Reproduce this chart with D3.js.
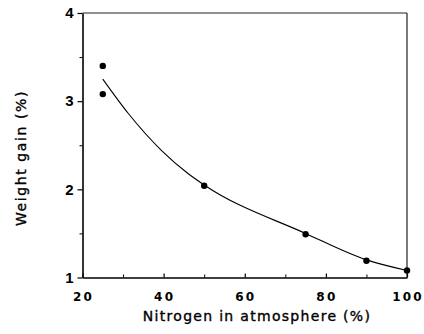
<!DOCTYPE html>
<html>
<head>
<meta charset="utf-8">
<script src="https://cdn.jsdelivr.net/npm/d3@7"></script>
<style>
  html, body { margin: 0; padding: 0; background: #fff; }
  svg { display: block; }
</style>
</head>
<body>
<svg id="chart" width="424" height="334"></svg>
<script>
// Observed data points (nitrogen %, weight gain %)
const pointX = [25, 25, 50, 75, 90, 100];
const pointY = [3.40, 3.08, 2.04, 1.49, 1.19, 1.08];

// Fitted curve
const curveX = [25, 31.3, 39.5, 46, 50, 75, 90, 100];
const curveY = [3.25, 2.86, 2.44, 2.18, 2.05, 1.50, 1.20, 1.08];

// Ticks
const xMajorTicks = [20, 40, 60, 80, 100];
const xMinorTicks = [30, 50, 70, 90];
const yMajorTicks = [1, 2, 3, 4];
const yMinorTicks = [1.5, 2.5, 3.5];

const xTitle = "Nitrogen in atmosphere (%)";
const yTitle = "Weight gain (%)";

const svg = d3.select("#chart");
const mLeft = 82.5, mRight = 407, mTop = 13, mBottom = 277.5;

const x = d3.scaleLinear().domain([20, 100]).range([mLeft, mRight]);
const y = d3.scaleLinear().domain([1, 4]).range([mBottom, mTop]);

// Frame (top and right)
svg.append("line").attr("x1", mLeft).attr("x2", mRight).attr("y1", mTop).attr("y2", mTop)
  .attr("stroke", "#222").attr("stroke-width", 1.2);
svg.append("line").attr("x1", mRight).attr("x2", mRight).attr("y1", mTop).attr("y2", mBottom)
  .attr("stroke", "#222").attr("stroke-width", 1.2);

// X axis: ticks inward
const xAxis = d3.axisBottom(x).tickValues(xMajorTicks).tickSize(-4).tickPadding(15).tickSizeOuter(0);
const gx = svg.append("g").attr("transform", `translate(0,${mBottom})`).call(xAxis);
gx.select(".domain").attr("stroke", "#000").attr("stroke-width", 1.6);
gx.selectAll(".tick line").attr("stroke", "#000").attr("stroke-width", 1.2);
gx.selectAll(".tick text")
  .attr("font-family", "DejaVu Sans, sans-serif").attr("font-weight", "bold")
  .attr("font-size", 12).attr("letter-spacing", 2.2).attr("fill", "#000")
  .attr("dx", 0.5);
const gxm = svg.append("g").attr("transform", `translate(0,${mBottom})`)
  .call(d3.axisBottom(x).tickValues(xMinorTicks).tickSize(-3).tickFormat("").tickSizeOuter(0));
gxm.select(".domain").remove();
gxm.selectAll(".tick line").attr("stroke", "#000").attr("stroke-width", 1);

// Y axis: ticks outward
const yAxis = d3.axisLeft(y).tickValues(yMajorTicks).tickSize(5).tickPadding(4).tickSizeOuter(0).tickFormat(d3.format("d"));
const gy = svg.append("g").attr("transform", `translate(${mLeft},0)`).call(yAxis);
gy.select(".domain").attr("stroke", "#000").attr("stroke-width", 1.6);
gy.selectAll(".tick line").attr("stroke", "#000").attr("stroke-width", 1.2);
gy.selectAll(".tick text")
  .attr("font-family", "Liberation Sans, Arial, sans-serif").attr("font-weight", "bold")
  .attr("font-size", 15).attr("fill", "#000");
const gym = svg.append("g").attr("transform", `translate(${mLeft},0)`)
  .call(d3.axisLeft(y).tickValues(yMinorTicks).tickSize(3).tickFormat("").tickSizeOuter(0));
gym.select(".domain").remove();
gym.selectAll(".tick line").attr("stroke", "#000").attr("stroke-width", 1);

// Curve
const curveData = curveX.map((d, i) => [d, curveY[i]]);
svg.append("path")
  .datum(curveData)
  .attr("fill", "none").attr("stroke", "#000").attr("stroke-width", 1.1)
  .attr("d", d3.line().x(d => x(d[0])).y(d => y(d[1])).curve(d3.curveMonotoneX));

// Points
svg.selectAll("circle.pt")
  .data(pointX.map((d, i) => [d, pointY[i]]))
  .join("circle")
  .attr("class", "pt")
  .attr("cx", d => x(d[0])).attr("cy", d => y(d[1]))
  .attr("r", 3.2).attr("fill", "#000");

// Titles
svg.append("text")
  .attr("x", 257).attr("y", 321)
  .attr("text-anchor", "middle")
  .attr("font-family", "DejaVu Sans, sans-serif").attr("font-size", 14)
  .attr("letter-spacing", 1.3).attr("fill", "#000")
  .attr("stroke", "#000").attr("stroke-width", 0.35)
  .text(xTitle);

svg.append("text")
  .attr("transform", "translate(26,158) rotate(-90)")
  .attr("text-anchor", "middle")
  .attr("font-family", "DejaVu Sans, sans-serif").attr("font-size", 14)
  .attr("letter-spacing", 1.6).attr("fill", "#000")
  .attr("stroke", "#000").attr("stroke-width", 0.35)
  .text(yTitle);
</script>
</body>
</html>
